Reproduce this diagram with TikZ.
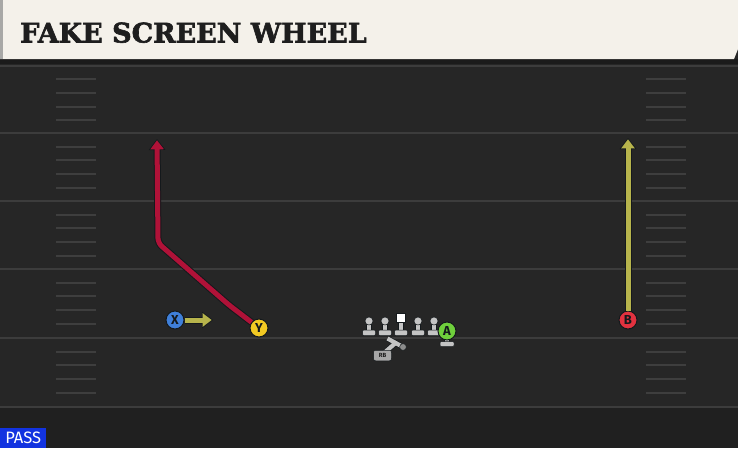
\documentclass[tikz,border=0pt]{standalone}
\usepackage{fontspec}
\setsansfont{Fira Sans}
\newfontfamily\titlefont{DejaVu Serif}[UprightFont={* Bold}, FakeBold=2.2]
\usetikzlibrary{arrows.meta}
\definecolor{field}{HTML}{262626}
\definecolor{fieldlow}{HTML}{202020}
\definecolor{band}{HTML}{1B1B1B}
\definecolor{yardline}{HTML}{3C3C3C}
\definecolor{hashc}{HTML}{3E3E3E}
\definecolor{cream}{HTML}{F4F1EA}
\definecolor{creamedge}{HTML}{A8A8A6}
\definecolor{ink}{HTML}{1E1E1E}
\definecolor{outl}{HTML}{14191C}
\definecolor{routered}{HTML}{B01238}
\definecolor{olive}{HTML}{B7B44C}
\definecolor{xblue}{HTML}{3F7FD9}
\definecolor{yyellow}{HTML}{F2C923}
\definecolor{bred}{HTML}{E2323F}
\definecolor{agreen}{HTML}{6FCF3C}
\definecolor{lmgray}{HTML}{C4C4C4}
\definecolor{lmdark}{HTML}{8C8C8C}
\definecolor{passblue}{HTML}{1233E0}
\tikzset{
  yard/.style={draw=yardline, line width=2pt},
  hashm/.style={draw=hashc, line width=2pt},
  player/.style={circle, minimum size=18pt, inner sep=0pt, draw=outl, line width=1pt,
    font=\sffamily\bfseries\fontsize{13}{13}\selectfont, text=outl},
  routeout/.style={draw=outl, line width=7pt, line join=round,
    -{Triangle[length=11pt,width=16pt,line join=miter]}},
  routein/.style={draw=#1, line width=5pt, line join=round, shorten >=1.3pt,
    -{Triangle[length=9pt,width=13pt]}},
  lineman/.pic={
    \fill[lmgray, draw=outl, line width=0.5pt] (-2.6,0) rectangle (2.6,10);
    \fill[lmgray, draw=outl, line width=0.5pt, rounded corners=1pt] (-6.5,9) rectangle (6.5,14.5);
    \fill[lmgray, draw=outl, line width=0.5pt] (0,0) circle (4);
  },
  centerman/.pic={
    \fill[lmgray, draw=outl, line width=0.5pt] (-2.6,0) rectangle (2.6,10);
    \fill[lmgray, draw=outl, line width=0.5pt, rounded corners=1pt] (-6.5,9) rectangle (6.5,14.5);
    \fill[white, draw=outl, line width=0.5pt] (-4.6,-8) rectangle (4.6,1.5);
  },
}
\begin{document}
\begin{tikzpicture}[x=1pt,y=-1pt]
\useasboundingbox (0,0) rectangle (738,448);
% field
\fill[field] (0,0) rectangle (738,448);
\fill[fieldlow] (0,408) rectangle (738,448);
\fill[band] (0,59) rectangle (738,64);
\foreach \yy in {65.5,133,201,269,338,407}
  \draw[yard] (0,\yy) -- (738,\yy);
\foreach \yy in {65.5,133,201,269,338}
  \foreach \k in {1,2,3,4} {
    \draw[hashm] (56,\yy+13.7*\k) -- (96,\yy+13.7*\k);
    \draw[hashm] (646,\yy+13.7*\k) -- (686,\yy+13.7*\k);
  }
% title bar
\fill[cream] (0,0) -- (738,0) -- (738,49) -- (734,59) -- (0,59) -- cycle;
\fill[creamedge] (0,0) rectangle (2.5,59);
\node[anchor=base west, inner sep=0pt, text=ink,
  font=\titlefont\fontsize{27}{27}\selectfont] (title) at (20,42.5) {FAKE SCREEN WHEEL};
% players
\node[player, fill=xblue] (X) at (175,320) {X};
\node[player, fill=yyellow] (Y) at (259,328) {Y};
\node[player, fill=bred] (B) at (628,320) {B};
% routes
\coordinate (r1) at (229,305);
\coordinate (r2) at (158,243);
\coordinate (rEnd) at (157,139);
\coordinate (bEnd) at (628,138);
\coordinate (xEnd) at (213,320);
\draw[routeout, rounded corners=5pt] (Y) -- (r1) -- (r2) -- (rEnd);
\draw[routein=routered, rounded corners=5pt] (Y) -- (r1) -- (r2) -- (rEnd);
\draw[routeout] (B) -- (bEnd);
\draw[routein=olive] (B) -- (bEnd);
\draw[routeout] (X) -- (xEnd);
\draw[routein=olive] (X) -- (xEnd);
% offensive line
\pic at (369,321) {lineman};
\pic at (385,321) {lineman};
\pic at (401,321) {centerman};
\pic at (418,321) {lineman};
\pic at (434,321) {lineman};
% A with stand
\fill[lmgray, draw=outl, line width=0.5pt] (444.5,337) rectangle (449.5,342);
\fill[lmgray, draw=outl, line width=0.5pt, rounded corners=1pt] (440,341.5) rectangle (454,346.5);
\node[player, fill=agreen] (A) at (447,331) {A};
% running back
\coordinate (rbj) at (395.5,343);
\coordinate (rbl) at (387.5,338.5);
\coordinate (rbr) at (403,347);
\draw[draw=outl, line width=5.5pt] (rbl) -- (rbr);
\draw[draw=outl, line width=5.5pt] (rbj) -- (384,353);
\draw[draw=lmgray, line width=4.2pt] (rbl) -- (rbr);
\draw[draw=lmgray, line width=4.2pt] (rbj) -- (384,353);
\fill[lmdark, draw=outl, line width=0.5pt] (rbr) circle (3.4);
\node[fill=lmgray!85!black, draw=outl, line width=0.5pt, rounded corners=2pt, minimum width=18pt,
  minimum height=10.5pt, inner sep=0pt, text=ink,
  font=\sffamily\bfseries\fontsize{6}{6}\selectfont] (RB) at (382.5,355.5) {RB};
% pass tag
\node[fill=passblue, text=white, anchor=south west, minimum width=46pt, minimum height=20pt,
  inner sep=0pt, font=\sffamily\fontsize{16.5}{16.5}\selectfont] (pass) at (0,448.5) {PASS};
\end{tikzpicture}
\end{document}
